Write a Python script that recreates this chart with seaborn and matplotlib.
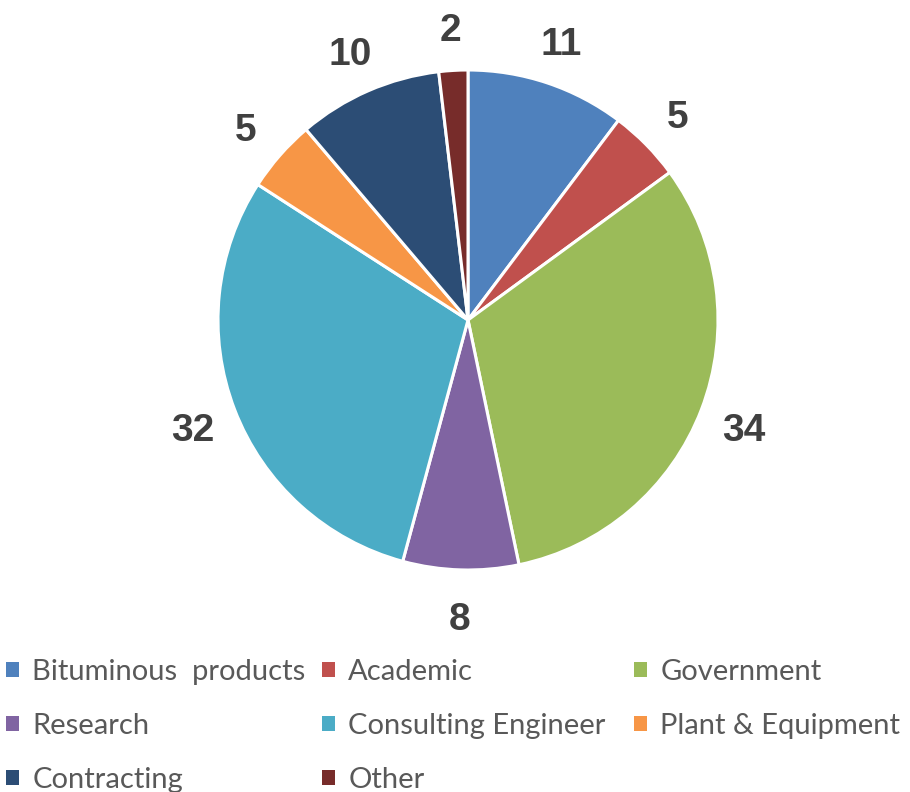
"""Pie chart of respondents by sector."""

import matplotlib
matplotlib.use("Agg")
import matplotlib.pyplot as plt
from matplotlib.patches import Patch
import seaborn as sns

sectores = ["Bituminous  products", "Academic", "Government", "Research",
            "Consulting Engineer", "Plant & Equipment", "Contracting", "Other"]
valores = [11, 5, 34, 8, 32, 5, 10, 2]
colores_hex = ["#4F81BD", "#C0504D", "#9BBB59", "#8064A2",
               "#4BACC6", "#F79646", "#2C4D75", "#772C2A"]

sns.set_theme(style="white")
paleta = sns.color_palette(colores_hex)

fig = plt.figure(figsize=(9.1, 7.92), dpi=100)
ax = fig.add_axes([218 / 910, 222 / 792, 500 / 910, 500 / 792])

wedges, textos = ax.pie(
    valores, labels=[str(v) for v in valores], colors=paleta,
    startangle=90, counterclock=False, labeldistance=1.18,
    wedgeprops=dict(edgecolor="white", linewidth=2.2),
    textprops=dict(fontsize=28, fontweight="bold", color="#404040",
                   family="Liberation Sans", ha="center", va="center"),
)
for t in textos:
    x, y = t.get_position()
    t.set_position((x, y - 0.02))
ax.set_xlim(-1, 1)
ax.set_ylim(-1, 1)
ax.set_aspect("equal")
ax.axis("off")

# leyenda en tres columnas, orden por filas como en el original
columnas = [[0, 3, 6], [1, 4, 7], [2, 5]]
x_col = [6 / 910, 322 / 910, 634 / 910]
for xc, idx in zip(x_col, columnas):
    handles = [Patch(facecolor=paleta[i], edgecolor="none") for i in idx]
    etiquetas = [sectores[i] for i in idx]
    fig.legend(handles, etiquetas, loc="upper left",
               bbox_to_anchor=(xc, 1 - 659 / 792), frameon=False,
               handlelength=0.45, handleheight=0.45, handletextpad=0.45,
               labelspacing=0.96, borderaxespad=0, borderpad=0,
               prop=dict(family="Lato", size=21),
               labelcolor="#595959")

fig.savefig("out.png", dpi=100)
